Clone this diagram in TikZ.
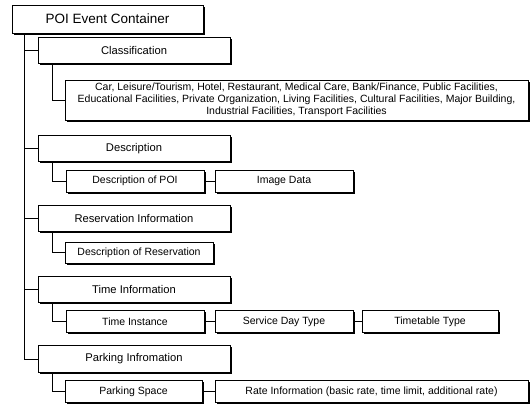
\documentclass[tikz,border=0pt]{standalone}
\usepackage{fontspec}
\setmainfont{Liberation Sans}
\usetikzlibrary{shadows}

\tikzset{
  box/.style={draw, fill=white, line width=0.6pt, inner sep=0pt,
    minimum height=26pt, font=\fontsize{11.2}{13}\selectfont,
    drop shadow={shadow xshift=1.8pt, shadow yshift=-1.8pt, opacity=1, fill=black}},
  leaf/.style={box, minimum height=22pt, font=\fontsize{10.5}{12}\selectfont},
  link/.style={line width=0.6pt}
}

\begin{document}
\begin{tikzpicture}[x=1pt, y=-1pt]
\useasboundingbox (0,0) rectangle (532,408);

\node[box, minimum width=191pt, minimum height=28pt, font=\fontsize{13.5}{16}\selectfont] (root) at (107.5,19) {POI Event Container};
\coordinate (trunk) at ([xshift=13pt]root.south west);

\node[box, minimum width=192pt] (cls) at (134,50) {Classification};
\node[box, minimum width=463pt, minimum height=40pt, align=center, font=\fontsize{10.5}{12}\selectfont] (cats) at (296.5,100)
  {Car, Leisure/Tourism, Hotel, Restaurant, Medical Care, Bank/Finance, Public Facilities,\\
   Educational Facilities, Private Organization, Living Facilities, Cultural Facilities, Major Building,\\
   Industrial Facilities, Transport Facilities};

\node[box, minimum width=192pt] (desc) at (134,148.5) {Description};
\node[leaf, minimum width=138pt] (poi) at (135,181) {Description of POI};
\node[leaf, minimum width=138pt] (img) at (284,181) {Image Data};

\node[box, minimum width=192pt] (resv) at (134,218.5) {Reservation Information};
\node[leaf, minimum width=148pt, minimum height=21pt] (resdesc) at (139,252.5) {Description of Reservation};

\node[box, minimum width=192pt] (time) at (134,289) {Time Information};
\node[leaf, minimum width=138pt] (inst) at (135,321.5) {Time Instance};
\node[leaf, minimum width=138pt] (day) at (284,321.5) {Service Day Type};
\node[leaf, minimum width=136pt] (table) at (430,321.5) {Timetable Type};

\node[box, minimum width=192pt, minimum height=27pt] (park) at (134,359) {Parking Infromation};
\node[leaf, minimum width=137pt] (space) at (133.5,391.5) {Parking Space};
\node[leaf, minimum width=313pt] (rate) at (371.5,391.5) {Rate Information (basic rate, time limit, additional rate)};

\foreach \n in {cls,desc,resv,time,park}
  \draw[link] (trunk) |- (\n.west);

\draw[link] ([xshift=15pt]cls.south west) |- (cats.west);
\draw[link] ([xshift=15pt]desc.south west) |- (poi.west);
\draw[link] ([xshift=15pt]resv.south west) |- (resdesc.west);
\draw[link] ([xshift=15pt]time.south west) |- (inst.west);
\draw[link] ([xshift=15pt]park.south west) |- (space.west);

\draw[link] (poi) -- (img);
\draw[link] (inst) -- (day);
\draw[link] (day) -- (table);
\draw[link] (space) -- (rate);

\end{tikzpicture}
\end{document}
